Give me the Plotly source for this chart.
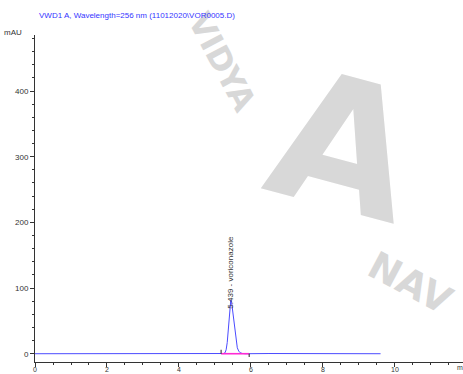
import plotly.graph_objects as go

# Chromatogram trace (retention time in min, detector response in mAU)
time_min = [0.0, 1.3, 2.5, 4.0, 5.0, 5.24, 5.28, 5.31, 5.34, 5.37, 5.40, 5.42,
            5.439, 5.46, 5.48, 5.50, 5.53, 5.56, 5.59, 5.62, 5.66, 5.70, 5.76,
            5.85, 6.5, 7.5, 8.5, 9.6]
signal_mau = [0.0, 0.0, 0.0, 0.0, 0.0, 0.3, 1.5, 6.0, 17.0, 38.0, 62.0, 76.0,
              82.0, 79.0, 70.0, 58.0, 41.0, 27.0, 16.0, 9.0, 4.0, 1.5, 0.4,
              0.0, 0.3, 0.0, 0.0, 0.0]

# Integrated peak
peak_rt = 5.439
peak_name = "voriconazole"
peak_start = 5.17
peak_end = 5.95

# Axis ticks
x_ticks = [0, 2, 4, 6, 8, 10]
y_ticks = [0, 100, 200, 300, 400]

title_text = "VWD1 A, Wavelength=256 nm (11012020\\VOR0005.D)"

W, H = 463, 374
ML, MR, MT, MB = 35, 0, 35, 12
X_RANGE = [0, 11.89]
Y_RANGE = [-12.6, 485.3]


def px(xp):
    return (xp - ML) / (W - ML - MR)


def py(yp):
    return (H - MB - yp) / (H - MT - MB)


FONT = "Liberation Sans, Arial, sans-serif"
TRACE_BLUE = "#4b4bff"

fig = go.Figure()

# Detector signal
fig.add_trace(go.Scatter(
    x=time_min, y=signal_mau, mode="lines",
    line=dict(color=TRACE_BLUE, width=1), hoverinfo="skip", showlegend=False,
))

# Integration baseline under the peak
fig.add_trace(go.Scatter(
    x=[peak_start, peak_end], y=[0, 0], mode="lines",
    line=dict(color="#ff2ad4", width=1.6), hoverinfo="skip", showlegend=False,
))

# Integration start / end markers
fig.add_trace(go.Scatter(
    x=[peak_start, peak_start, None, peak_end, peak_end],
    y=[0, 6, None, 0, -5], mode="lines",
    line=dict(color="#222222", width=1), hoverinfo="skip", showlegend=False,
))

# Peak label, written vertically above the apex
fig.add_annotation(
    x=peak_rt, y=66, xref="x", yref="y",
    text=f"{peak_rt:.3f} - {peak_name}", textangle=-90,
    xanchor="center", yanchor="bottom", showarrow=False,
    font=dict(family=FONT, size=8, color="#333333"),
)

# Background watermark lettering
WM = "#d8d8d8"
fig.add_annotation(x=px(343), y=py(145), xref="paper", yref="paper",
                   xanchor="center", yanchor="middle",
                   text="<b>A</b>", textangle=15, showarrow=False,
                   font=dict(family="DejaVu Sans", size=180, color=WM))
fig.add_annotation(x=px(410), y=py(283), xref="paper", yref="paper",
                   xanchor="center", yanchor="middle",
                   text="<b>NAV</b>", textangle=28, showarrow=False,
                   font=dict(family="DejaVu Sans", size=38, color=WM))
fig.add_annotation(x=px(222), y=py(62), xref="paper", yref="paper",
                   xanchor="center", yanchor="middle",
                   text="<b>VIDYA</b>", textangle=62, showarrow=False,
                   font=dict(family="DejaVu Sans", size=32, color=WM))

# Signal title and unit labels
fig.add_annotation(x=px(37), y=py(15), xref="paper", yref="paper",
                   text=title_text, xanchor="left", yanchor="middle",
                   showarrow=False,
                   font=dict(family=FONT, size=8, color="#3535ff"))
fig.add_annotation(x=px(24), y=py(33), xref="paper", yref="paper",
                   text="mAU", xanchor="right", yanchor="middle",
                   showarrow=False,
                   font=dict(family=FONT, size=8, color="#333333"))
fig.add_annotation(x=px(455), y=py(368), xref="paper", yref="paper",
                   text="m", xanchor="left", yanchor="middle",
                   showarrow=False,
                   font=dict(family=FONT, size=7, color="#333333"))

fig.update_layout(
    width=W, height=H,
    margin=dict(l=ML, r=MR, t=MT, b=MB, pad=0, autoexpand=False),
    paper_bgcolor="white", plot_bgcolor="white",
    font=dict(family=FONT, size=8, color="#333333"),
    showlegend=False,
)
fig.update_xaxes(
    range=X_RANGE, tickvals=x_ticks, ticktext=[str(v) for v in x_ticks],
    automargin=False, ticklabelstandoff=-3,
    showgrid=False, zeroline=False, showline=True, linecolor="#333333",
    linewidth=1, ticks="outside", ticklen=4, tickcolor="#333333",
    tickfont=dict(size=7, color="#333333"),
    minor=dict(dtick=0.5, ticks="outside", ticklen=2, tickcolor="#333333",
               showgrid=False),
)
fig.update_yaxes(
    range=Y_RANGE, tickvals=y_ticks, ticktext=[str(v) for v in y_ticks],
    automargin=False,
    showgrid=False, zeroline=False, showline=True, linecolor="#333333",
    linewidth=1, ticks="outside", ticklen=4, tickcolor="#333333",
    tickfont=dict(size=8, color="#333333"),
    minor=dict(dtick=20, ticks="outside", ticklen=2, tickcolor="#333333",
               showgrid=False),
)

fig.write_html("out.html")
